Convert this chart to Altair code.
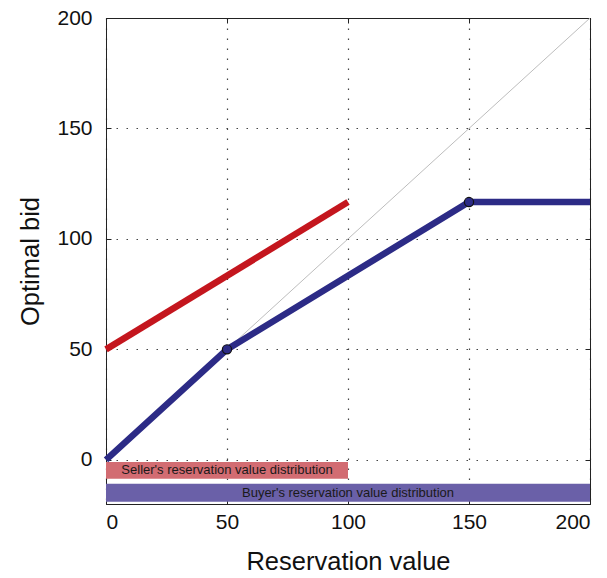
import altair as alt
import pandas as pd

# data
red_x = [0, 100]
red_y = [50, 116.67]
blue_x = [0, 50, 150, 200]
blue_y = [0, 50, 116.67, 116.67]
diag_x = [0, 200]
diag_y = [0, 200]
knot_x = [50, 150]
knot_y = [50, 116.67]
bar_labels = ["Seller's reservation value distribution", "Buyer's reservation value distribution"]
bar_x0 = [0, 0]
bar_x1 = [100, 200]
bar_y0 = [-1, -10.8]
bar_y1 = [-8.6, -19]
bar_colors = ["#d26c72", "#6a60a8"]
ticks = [0, 50, 100, 150, 200]

red = pd.DataFrame({"x": red_x, "y": red_y})
blue = pd.DataFrame({"x": blue_x, "y": blue_y})
diag = pd.DataFrame({"x": diag_x, "y": diag_y})
knots = pd.DataFrame({"x": knot_x, "y": knot_y})
bars = pd.DataFrame({"label": bar_labels, "x0": bar_x0, "x1": bar_x1,
                     "y0": bar_y0, "y1": bar_y1, "color": bar_colors})
bars["xm"] = (bars["x0"] + bars["x1"]) / 2
bars["ym"] = (bars["y0"] + bars["y1"]) / 2

FONT = "Liberation Sans"
xs = alt.Scale(domain=[0, 200], nice=False, zero=False)
ys = alt.Scale(domain=[-20, 200], nice=False, zero=False)
INNER = alt.ExprRef("-5")

xaxis = alt.Axis(values=ticks, title="Reservation value", grid=True, gridDash=[1.5, 8.5],
                 gridColor="#444", gridWidth=1.2, tickSize=INNER, tickColor="#222",
                 domainColor="#222", labelFontSize=21, labelFont=FONT, labelColor="#111",
                 labelPadding=12, titleFontSize=25.5, titleFont=FONT, titleFontWeight="normal",
                 titlePadding=17, titleColor="#111")
yaxis = alt.Axis(values=ticks, title="Optimal bid", grid=True, gridDash=[1.5, 8.5],
                 gridColor="#444", gridWidth=1.2, tickSize=INNER, tickColor="#222",
                 domainColor="#222", labelFontSize=21, labelFont=FONT, labelColor="#111",
                 labelPadding=19, titleFontSize=25.5, titleFont=FONT, titleFontWeight="normal",
                 titlePadding=13, titleColor="#111")

diag_l = alt.Chart(diag).mark_line(color="#bdbdbd", strokeWidth=1).encode(
    x=alt.X("x:Q", scale=xs, axis=xaxis), y=alt.Y("y:Q", scale=ys, axis=yaxis))
# mirrored ticks on top/right
top_l = alt.Chart(diag).mark_line(opacity=0).encode(
    x=alt.X("x:Q", scale=xs, axis=alt.Axis(orient="top", values=ticks, labels=False, title=None,
                                           tickSize=INNER, tickColor="#222", domainColor="#222", grid=False)),
    y=alt.Y("y:Q", scale=ys, axis=alt.Axis(orient="right", values=ticks, labels=False, title=None,
                                           tickSize=INNER, tickColor="#222", domainColor="#222", grid=False)))
red_l = alt.Chart(red).mark_line(color="#c4161e", strokeWidth=6.5).encode(
    x=alt.X("x:Q", axis=None), y=alt.Y("y:Q", axis=None))
blue_l = alt.Chart(blue).mark_line(color="#2c2b86", strokeWidth=6.5).encode(
    x=alt.X("x:Q", axis=None), y=alt.Y("y:Q", axis=None))
knot_p = alt.Chart(knots).mark_point(shape="circle", filled=True, size=85, fill="#2c2b86",
                                     stroke="#111", strokeWidth=1.2, opacity=1).encode(
    x=alt.X("x:Q", axis=None), y=alt.Y("y:Q", axis=None))
bar_r = alt.Chart(bars).mark_rect().encode(
    x=alt.X("x0:Q", axis=None), x2="x1", y=alt.Y("y0:Q", axis=None), y2="y1",
    color=alt.Color("color:N", scale=None))
bar_t = alt.Chart(bars).mark_text(font=FONT, fontSize=13, color="#1a1a1a").encode(
    x=alt.X("xm:Q", axis=None), y=alt.Y("ym:Q", axis=None), text="label:N")

chart = alt.layer(diag_l, top_l, bar_r, bar_t, red_l, blue_l, knot_p).resolve_axis(
    x="independent", y="independent").properties(
    width=484, height=486,
    autosize=alt.AutoSizeParams(type="none"),
    padding={"left": 98, "top": 10, "right": 9, "bottom": 66},
).configure_view(stroke="#222", strokeWidth=1)

chart.save("out.html", embed_options={"renderer": "svg", "actions": False})
